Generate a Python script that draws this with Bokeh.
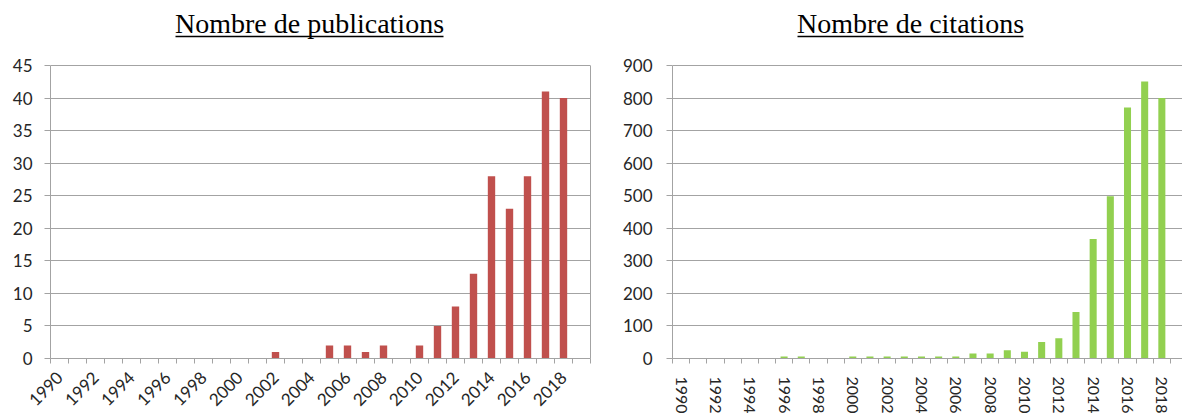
from bokeh.plotting import figure
from bokeh.models import Range1d, FixedTicker, Label, BoxAnnotation, LinearAxis
from bokeh.layouts import row
from bokeh.embed import file_html
from bokeh.resources import INLINE

# ---------------- data ----------------
years = [1990, 1991, 1992, 1993, 1994, 1995, 1996, 1997, 1998, 1999,
         2000, 2001, 2002, 2003, 2004, 2005, 2006, 2007, 2008, 2009,
         2010, 2011, 2012, 2013, 2014, 2015, 2016, 2017, 2018]
publications = [0, 0, 0, 0, 0, 0, 0, 0, 0, 0,
                0, 0, 1, 0, 0, 2, 2, 1, 2, 0,
                2, 5, 8, 13, 28, 23, 28, 41, 40]
citations = [0, 0, 0, 0, 0, 0, 6, 6, 0, 0,
             6, 6, 6, 6, 6, 6, 6, 15, 15, 25,
             21, 51, 62, 143, 367, 498, 771, 851, 800]
year_labels = [1990, 1992, 1994, 1996, 1998, 2000, 2002, 2004, 2006, 2008,
               2010, 2012, 2014, 2016, 2018]
pub_ticks = [0, 5, 10, 15, 20, 25, 30, 35, 40, 45]
cit_ticks = [0, 100, 200, 300, 400, 500, 600, 700, 800, 900]
title_pub = "Nombre de publications"
title_cit = "Nombre de citations"

# ---------------- styles ----------------
GRID = "#a3a3a3"
TXT = "#262626"
FONT = "Lato"
RED = "#c0504d"
GREEN = "#92d050"
H = 416
BOTTOM = 358      # pixel row of the x axis (both frames end here)
TOP = 65          # pixel row of the top gridline

boundaries = [y - 0.5 for y in years] + [years[-1] + 0.5, years[-1] + 1.5]


def style(p, xfont, xorient, xstandoff, ystandoff, ticks):
    p.xgrid.grid_line_color = None
    p.ygrid.grid_line_color = GRID
    p.ygrid.grid_line_width = 1
    p.ygrid.ticker = FixedTicker(ticks=ticks)
    p.background_fill_color = "white"
    p.border_fill_color = "white"
    p.outline_line_color = None

    xa = p.xaxis[0]
    xa.ticker = FixedTicker(ticks=year_labels, minor_ticks=boundaries)
    xa.major_tick_line_color = None
    xa.major_tick_out = 0
    xa.major_tick_in = 0
    xa.minor_tick_line_color = GRID
    xa.minor_tick_out = 5
    xa.minor_tick_in = 0
    xa.axis_line_color = GRID
    xa.major_label_text_font = FONT
    xa.major_label_text_font_size = xfont
    xa.major_label_text_color = TXT
    xa.major_label_orientation = xorient
    xa.major_label_standoff = xstandoff

    ya = p.yaxis[0]
    ya.ticker = FixedTicker(ticks=ticks)
    ya.bounds = (ticks[0], ticks[-1])
    ya.minor_tick_line_color = None
    ya.major_tick_line_color = GRID
    ya.major_tick_out = 6
    ya.major_tick_in = 0
    ya.axis_line_color = GRID
    ya.major_label_text_font = FONT
    ya.major_label_text_font_size = "17px"
    ya.major_label_text_color = TXT
    ya.major_label_standoff = ystandoff


def add_title(p, text, fx0, top_val, px_per_x, cx, x0, x1):
    """Title and underline positioned from pixel layout (frame geometry)."""
    def xd(px):
        return 1989.5 + (px - fx0) / px_per_x

    def yd(py):
        return (BOTTOM - py) / (BOTTOM - TOP) * top_val

    p.add_layout(Label(x=xd(cx), y=yd(22.5), text=text,
                       text_font="Liberation Serif", text_font_size="28px",
                       text_align="center", text_baseline="alphabetic",
                       text_color="black"))
    p.add_layout(BoxAnnotation(left=xd(x0), right=xd(x1),
                               bottom=yd(36.8), top=yd(35.3),
                               fill_color="black", fill_alpha=1.0,
                               line_color=None))


def yrange(top_val):
    per = (BOTTOM - TOP) / top_val
    return Range1d(0, BOTTOM / per)


# ---------------- left chart ----------------
# frame: x 50..590 (18 px per year)
p1 = figure(width=591, height=H, output_backend="svg", toolbar_location=None,
            x_range=Range1d(1989.5, 2019.5), y_range=yrange(45),
            min_border_left=50, min_border_right=1, min_border_top=0,
            min_border_bottom=H - BOTTOM)
style(p1, "17px", 0.785398, 11, 12, pub_ticks)
p1.vbar(x=years, top=publications, width=0.41, fill_color=RED, line_color=None)

border = LinearAxis(ticker=FixedTicker(ticks=[]), bounds=(0, 45),
                    axis_line_color=GRID, major_tick_line_color=None,
                    minor_tick_line_color=None, major_label_standoff=0,
                    major_tick_out=0, major_tick_in=0, minor_tick_out=0,
                    minor_tick_in=0)
p1.add_layout(border, "right")
add_title(p1, title_pub, 50, 45, 18.0, 309, 175, 443)

# ---------------- right chart ----------------
# frame: x 672..1182 (17.17 px per year)
R_PX = 17.17
p2 = figure(width=591, height=H, output_backend="svg", toolbar_location=None,
            x_range=Range1d(1989.5, 1989.5 + 510 / R_PX), y_range=yrange(900),
            min_border_left=81, min_border_right=0, min_border_top=0,
            min_border_bottom=H - BOTTOM)
style(p2, "16px", "vertical", 13, 14, cit_ticks)
p2.vbar(x=years, top=citations, width=0.41, fill_color=GREEN, line_color=None)
add_title(p2, title_cit, 672, 900, R_PX, 910, 797, 1023)

layout = row(p1, p2)
open("out.html", "w").write(file_html(layout, INLINE))
